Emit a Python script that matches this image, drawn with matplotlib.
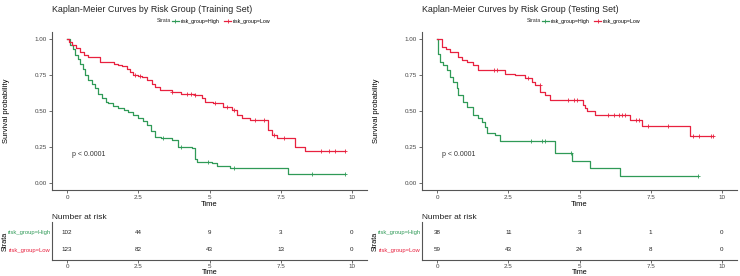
import numpy as np
import matplotlib
matplotlib.use("Agg")
import matplotlib.pyplot as plt
from matplotlib.lines import Line2D

plt.rcParams['font.family'] = ['Liberation Sans', 'DejaVu Sans']

GREEN = '#2f9a57'
RED = '#e8213f'
AXC = '#555555'

# ---- Training set ----
train_high_t = [0, 0.1, 0.2, 0.28, 0.37, 0.46, 0.55, 0.63, 0.75, 0.86, 0.98, 1.1, 1.22, 1.35, 1.45,
                1.6, 1.8, 2.0, 2.15, 2.3, 2.5, 2.65, 2.8, 2.95, 3.09, 3.3, 3.67, 3.9, 4.37, 4.49,
                4.56, 5.08, 5.25, 5.72, 7.77, 9.75]
train_high_s = [1.0, 0.96, 0.93, 0.89, 0.86, 0.83, 0.79, 0.75, 0.715, 0.69, 0.66, 0.62, 0.59, 0.565, 0.553,
                0.535, 0.52, 0.505, 0.495, 0.47, 0.45, 0.43, 0.40, 0.36, 0.32, 0.31, 0.30, 0.25, 0.24, 0.165,
                0.148, 0.137, 0.118, 0.10, 0.0625, 0.0625]
train_high_cens = [3.35, 4.0, 4.95, 5.85, 8.6, 9.75]

train_low_t = [0, 0.08, 0.16, 0.3, 0.46, 0.6, 0.75, 1.16, 1.63, 1.8, 1.92, 2.1, 2.21, 2.33, 2.5, 2.62,
               2.8, 2.97, 3.1, 3.26, 3.67, 4.0, 4.49, 4.73, 4.84, 5.13, 5.48, 5.78, 5.95, 6.13, 6.42,
               7.06, 7.18, 7.36, 8.0, 8.35, 9.75]
train_low_s = [1.0, 0.98, 0.958, 0.94, 0.91, 0.89, 0.877, 0.84, 0.83, 0.82, 0.81, 0.79, 0.77, 0.75, 0.745, 0.74,
               0.715, 0.69, 0.665, 0.646, 0.635, 0.62, 0.61, 0.59, 0.565, 0.553, 0.53, 0.507, 0.47, 0.45, 0.4375,
               0.368, 0.333, 0.31, 0.252, 0.224, 0.224]
train_low_cens = [2.4, 2.55, 3.7, 4.2, 4.35, 4.5, 5.2, 5.6, 5.85, 6.6, 6.9, 7.25, 7.6, 8.9, 9.2, 9.4, 9.75]

# ---- Testing set ----
test_high_t = [0, 0.02, 0.1, 0.22, 0.34, 0.46, 0.57, 0.69, 0.75, 0.92, 1.04, 1.27, 1.45, 1.57, 1.68,
               1.74, 2.04, 2.21, 4.14, 4.75, 5.37, 6.42, 9.17]
test_high_s = [1.0, 0.90, 0.84, 0.82, 0.785, 0.74, 0.70, 0.66, 0.61, 0.565, 0.526, 0.47, 0.45, 0.425, 0.39,
               0.345, 0.333, 0.29, 0.206, 0.155, 0.105, 0.05, 0.05]
test_high_cens = [3.3, 3.7, 3.8, 4.7, 9.17]

test_low_t = [0, 0.16, 0.33, 0.46, 0.75, 0.87, 1.04, 1.27, 1.45, 2.39, 2.74, 3.09, 3.32, 3.44, 3.61, 3.79,
              3.96, 5.13, 5.2, 5.25, 5.54, 6.77, 7.18, 8.88, 9.7]
test_low_s = [1.0, 0.947, 0.93, 0.91, 0.877, 0.853, 0.84, 0.82, 0.785, 0.76, 0.75, 0.73, 0.70, 0.68, 0.634, 0.61,
              0.576, 0.54, 0.52, 0.50, 0.475, 0.4375, 0.396, 0.326, 0.326]
test_low_cens = [2.0, 2.1, 3.2, 3.6, 4.6, 4.8, 4.9, 6.0, 6.2, 6.4, 6.5, 6.6, 7.0, 7.1, 7.4, 8.1, 9.0, 9.2, 9.6, 9.7]

risk_times = [0, 2.5, 5, 7.5, 10]
train_risk_high = [102, 44, 9, 3, 0]
train_risk_low = [123, 82, 43, 13, 0]
test_risk_high = [38, 11, 3, 1, 0]
test_risk_low = [59, 43, 24, 8, 0]

strata = ['risk_group=High', 'risk_group=Low']
titles = ['Kaplan-Meier Curves by Risk Group (Training Set)',
          'Kaplan-Meier Curves by Risk Group (Testing Set)']

W, H = 740, 276
fig = plt.figure(figsize=(W / 100, H / 100), dpi=100)


def px(x0, y_top, w, h):
    return [x0 / W, 1 - (y_top + h) / H, w / W, h / H]


def surv_at(t, s, ct):
    idx = np.searchsorted(t, ct, side='right') - 1
    return np.array(s)[idx]


def style_axes(ax):
    for side in ['top', 'right']:
        ax.spines[side].set_visible(False)
    for side in ['left', 'bottom']:
        ax.spines[side].set_color(AXC)
        ax.spines[side].set_linewidth(0.8)
    ax.tick_params(length=2, width=0.6, color=AXC, labelsize=4.5, labelcolor='#444444', pad=1.5)


panels = [
    (0, titles[0], (train_high_t, train_high_s, train_high_cens), (train_low_t, train_low_s, train_low_cens),
     train_risk_high, train_risk_low),
    (370, titles[1], (test_high_t, test_high_s, test_high_cens), (test_low_t, test_low_s, test_low_cens),
     test_risk_high, test_risk_low),
]

for off, title, high, low, rh, rl in panels:
    ax = fig.add_axes(px(off + 52, 32, 315, 158))
    for (t, s, c), col in [(high, GREEN), (low, RED)]:
        ax.step(t, s, where='post', color=col, lw=0.9)
        ax.plot(c, surv_at(t, s, c), '+', color=col, ms=2.5, mew=0.6)
    ax.set_xlim(-0.53, 10.53)
    ax.set_ylim(-0.05, 1.05)
    ax.set_xticks(risk_times)
    ax.set_xticklabels(['0', '2.5', '5', '7.5', '10'])
    ax.set_yticks([0, 0.25, 0.5, 0.75, 1.0])
    ax.set_yticklabels(['0.00', '0.25', '0.50', '0.75', '1.00'])
    style_axes(ax)
    ax.set_xlabel('Time', fontsize=5.5, labelpad=1)
    ax.set_ylabel('Survival probability', fontsize=5.5)
    ax.yaxis.set_label_coords(-42 / 315, 0.5)
    ax.text(0.17, 0.20, 'p < 0.0001', fontsize=5, color='#333333', va='center')
    fig.text((off + 52) / W, 1 - 12 / H, title, fontsize=6.4, color='#222222')

    fig.text((off + 157) / W, 1 - 21 / H, 'Strata', fontsize=3.8, va='center', color='#333333')
    handles = [Line2D([], [], color=GREEN, lw=0.9, marker='+', ms=2.5, mew=0.6),
               Line2D([], [], color=RED, lw=0.9, marker='+', ms=2.5, mew=0.6)]
    fig.legend(handles, strata, ncol=2, loc='center left', bbox_to_anchor=((off + 172) / W, 1 - 21 / H),
               frameon=False, fontsize=3.8, handlelength=1.3, handletextpad=0.4, columnspacing=0.8,
               borderpad=0, borderaxespad=0)

    tab = fig.add_axes(px(off + 52, 222, 315, 38))
    tab.set_xlim(-0.53, 10.53)
    tab.set_ylim(0.4, 2.6)
    for x, a, b in zip(risk_times, rh, rl):
        tab.text(x, 2, str(a), ha='center', va='center', fontsize=4.5, color='#222222')
        tab.text(x, 1, str(b), ha='center', va='center', fontsize=4.5, color='#222222')
    tab.set_xticks(risk_times)
    tab.set_xticklabels(['0', '2.5', '5', '7.5', '10'])
    tab.set_yticks([2, 1])
    tab.set_yticklabels(strata)
    style_axes(tab)
    tab.tick_params(axis='x', pad=1)
    tab.tick_params(axis='y', length=0, labelsize=4.2, pad=1)
    for lbl, col in zip(tab.get_yticklabels(), [GREEN, RED]):
        lbl.set_color(col)
    tab.set_xlabel('Time', fontsize=5.2)
    tab.xaxis.set_label_coords(0.5, -8.5 / 38)
    tab.set_ylabel('Strata', fontsize=5.2)
    tab.yaxis.set_label_coords(-43 / 315, 0.5)
    tab.set_title('Number at risk', fontsize=6, loc='left', pad=2, color='#222222')

fig.savefig('out.png', dpi=100)
